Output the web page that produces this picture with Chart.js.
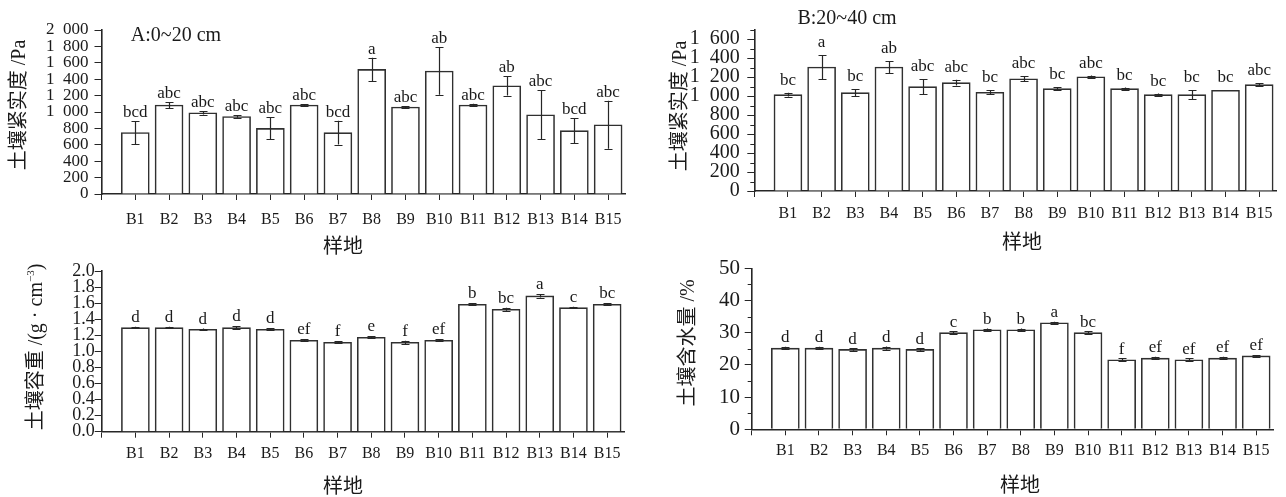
<!DOCTYPE html>
<html>
<head>
<meta charset="utf-8">
<script src="https://cdn.jsdelivr.net/npm/chart.js@4.4.1/dist/chart.umd.min.js"></script>
<style>
  body { margin: 0; width: 1286px; height: 497px; position: relative; overflow: hidden; background: #fff;
         font-family: "Liberation Serif", "Noto Sans CJK SC", serif; color: #1a1a1a; }
  canvas { position: absolute; }
  .t { position: absolute; white-space: nowrap; transform: translate(-50%, -50%); line-height: 1; }
  .v { transform: translate(-50%, -50%) rotate(-90deg); }
  sup { font-size: 0.55em; vertical-align: 0.7em; }
</style>
</head>
<body>
<canvas id="cA" width="643" height="262" style="left:0;top:0"></canvas>
<canvas id="cB" width="643" height="262" style="left:643px;top:0"></canvas>
<canvas id="cC" width="643" height="247" style="left:0;top:250px"></canvas>
<canvas id="cD" width="643" height="247" style="left:643px;top:250px"></canvas>

<div class="t" style="left:176px;top:34px;font-size:20px">A:0~20 cm</div>
<div class="t" style="left:847px;top:17px;font-size:20px">B:20~40 cm</div>

<div class="t v" style="left:18px;top:105px;font-size:20px">土壤紧实度 /Pa</div>
<div class="t v" style="left:679px;top:106px;font-size:20px">土壤紧实度 /Pa</div>
<div class="t v" style="left:35px;top:347px;font-size:20px">土壤容重 /(g · cm<sup>−3</sup>)</div>
<div class="t v" style="left:687px;top:343px;font-size:20px">土壤含水量 /%</div>

<div class="t" style="left:343px;top:246px;font-size:20px">样地</div>
<div class="t" style="left:1022px;top:242px;font-size:20px">样地</div>
<div class="t" style="left:343px;top:486px;font-size:20px">样地</div>
<div class="t" style="left:1020px;top:485px;font-size:20px">样地</div>

<script>
// ─── Données ─────────────────────────────────────────────────────────────────
const sites = ["B1", "B2", "B3", "B4", "B5", "B6", "B7", "B8", "B9", "B10", "B11", "B12", "B13", "B14", "B15"];

const compactTop = [750, 1085, 990, 945, 800, 1085, 748, 1520, 1060, 1500, 1085, 1320, 967, 772, 845];
const compactTopErr = [140, 38, 22, 14, 135, 12, 145, 142, 10, 290, 15, 120, 300, 155, 292];
const compactTopLetters = ["bcd", "abc", "abc", "abc", "abc", "abc", "bcd", "a", "abc", "ab", "abc", "ab", "abc", "bcd", "abc"];

const compactSub = [1014, 1305, 1035, 1305, 1098, 1140, 1039, 1182, 1077, 1203, 1077, 1014, 1014, 1060, 1119];
const compactSubErr = [20, 126, 35, 63, 82, 30, 22, 25, 18, 12, 12, 12, 50, 0, 15];
const compactSubLetters = ["bc", "a", "bc", "ab", "abc", "abc", "bc", "abc", "bc", "abc", "bc", "bc", "bc", "bc", "abc"];

const bulkDensity = [1.295, 1.295, 1.275, 1.295, 1.275, 1.138, 1.113, 1.175, 1.113, 1.138, 1.586, 1.524, 1.69, 1.544, 1.586];
const bulkDensityErr = [0.01, 0.01, 0.008, 0.015, 0.015, 0.015, 0.01, 0.01, 0.02, 0.01, 0.01, 0.02, 0.02, 0.01, 0.01];
const bulkDensityLetters = ["d", "d", "d", "d", "d", "ef", "f", "e", "f", "ef", "b", "bc", "a", "c", "bc"];

const moisture = [25.2, 25.2, 24.8, 25.2, 24.8, 30.0, 30.9, 30.9, 33.1, 30.0, 21.6, 22.1, 21.6, 22.1, 22.8];
const moistureErr = [0.4, 0.4, 0.4, 0.5, 0.4, 0.4, 0.4, 0.4, 0.3, 0.4, 0.4, 0.4, 0.5, 0.4, 0.3];
const moistureLetters = ["d", "d", "d", "d", "d", "c", "b", "b", "a", "bc", "f", "ef", "ef", "ef", "ef"];

// ─── Thème ───────────────────────────────────────────────────────────────────
const FONT = "'Liberation Serif', 'Noto Sans CJK SC', serif";
const INK = "#262626";
Chart.defaults.font.family = FONT;
Chart.defaults.color = "#1a1a1a";
Chart.defaults.animation = false;

// barres d'erreur + lettres de significativité
const barMarks = {
  id: "barMarks",
  afterDatasetsDraw(chart, args, opts) {
    const { ctx } = chart;
    const y = chart.scales.y;
    const pts = chart.data.datasets[0].data;
    ctx.save();
    ctx.strokeStyle = INK;
    ctx.lineWidth = 1.2;
    ctx.fillStyle = "#1a1a1a";
    ctx.font = `${opts.size}px ${FONT}`;
    ctx.textAlign = "center";
    ctx.textBaseline = "alphabetic";
    chart.getDatasetMeta(0).data.forEach((bar, i) => {
      const v = pts[i].y, e = opts.errors[i];
      const top = y.getPixelForValue(v + e);
      const bot = y.getPixelForValue(v - e);
      const x = Math.round(bar.x) + 0.5;
      if (e > 0) {
        ctx.beginPath();
        ctx.moveTo(x, top); ctx.lineTo(x, bot);
        ctx.moveTo(x - 4, Math.round(top) + 0.5); ctx.lineTo(x + 4, Math.round(top) + 0.5);
        ctx.moveTo(x - 4, Math.round(bot) + 0.5); ctx.lineTo(x + 4, Math.round(bot) + 0.5);
        ctx.stroke();
      }
      ctx.fillText(opts.letters[i], bar.x, Math.min(top, y.getPixelForValue(v)) - opts.gap);
    });
    ctx.restore();
  },
};

// petites graduations secondaires sur l'axe y
const minorTicks = {
  id: "minorTicks",
  afterDraw(chart, args, opts) {
    if (!opts.every) return;
    const { ctx, chartArea } = chart;
    const y = chart.scales.y;
    ctx.save();
    ctx.strokeStyle = INK;
    ctx.lineWidth = 1;
    y.ticks.forEach((t) => {
      if (Math.round(t.value) % opts.every === 0) return;
      const py = Math.round(y.getPixelForValue(t.value)) + 0.5;
      ctx.beginPath();
      ctx.moveTo(chartArea.left - opts.length, py);
      ctx.lineTo(chartArea.left, py);
      ctx.stroke();
    });
    ctx.restore();
  },
};

// "2 000" : séparateur de milliers
const thousands = (v) => (v < 1000 ? String(v) : `${Math.floor(v / 1000)}\u2002${String(v % 1000).padStart(3, "0")}`);

function renderPanel(id, p) {
  const ctx = document.getElementById(id).getContext("2d");
  return new Chart(ctx, {
    type: "bar",
    data: {
      datasets: [{
        data: p.values.map((v, i) => ({ x: i + 1, y: v })),
        backgroundColor: "#fff",
        borderColor: "#303030",
        borderWidth: 1.6,
        borderSkipped: "bottom",
        barThickness: 28,
      }],
    },
    options: {
      responsive: false,
      devicePixelRatio: 1,
      layout: { padding: { top: p.padTop, right: p.padRight, left: 0, bottom: 0 } },
      plugins: {
        legend: { display: false },
        tooltip: { enabled: false },
        barMarks: { errors: p.errors, letters: p.letters, gap: p.gap, size: 17 },
        minorTicks: { every: p.every, length: 4 },
      },
      scales: {
        x: {
          type: "linear",
          offset: false,
          min: 0,
          max: 15.5,
          afterBuildTicks: (s) => { s.ticks = [0, ...sites.map((_, i) => i + 1)].map((v) => ({ value: v })); },
          afterFit: (s) => { s.height = p.xHeight; },
          grid: { drawOnChartArea: false, offset: false, tickLength: 6, tickColor: INK },
          border: { color: INK, width: 1.6 },
          ticks: {
            autoSkip: false, maxRotation: 0, padding: p.xPad,
            font: { size: 16 }, color: "#1a1a1a",
            callback: (v) => sites[v - 1] || "",
          },
        },
        y: {
          min: 0,
          max: p.yMax,
          afterFit: (s) => { s.width = p.yWidth; },
          grid: {
            drawOnChartArea: false, tickLength: 7,
            tickColor: (c) => (!p.every || Math.round(c.tick.value) % p.every === 0 ? INK : "transparent"),
          },
          border: { color: INK, width: 1.6 },
          ticks: {
            stepSize: p.yStep, autoSkip: false, padding: p.yPad,
            font: { size: p.yFont, lineHeight: 1 }, color: "#1a1a1a",
            callback: p.format,
          },
        },
      },
    },
    plugins: [barMarks, minorTicks],
  });
}

renderPanel("cA", {
  values: compactTop, errors: compactTopErr, letters: compactTopLetters,
  yMax: 2000, yStep: 200, every: 0, format: thousands,
  padTop: 30, padRight: 18, yWidth: 101.5, xHeight: 68, xPad: 10, yPad: 6, yFont: 17, gap: 4,
});

renderPanel("cB", {
  values: compactSub, errors: compactSubErr, letters: compactSubLetters,
  yMax: 1700, yStep: 100, every: 200,
  format: (v) => (v % 200 === 0 ? thousands(v) : ""),
  padTop: 29.5, padRight: 10, yWidth: 111.3, xHeight: 71, xPad: 7.5, yPad: 7.5, yFont: 20, gap: 8,
});

renderPanel("cC", {
  values: bulkDensity, errors: bulkDensityErr, letters: bulkDensityLetters,
  yMax: 2.0, yStep: 0.2, every: 0, format: (v) => v.toFixed(1),
  padTop: 21, padRight: 19, yWidth: 101.7, xHeight: 65.3, xPad: 6, yPad: 0, yFont: 18, gap: 5,
});

renderPanel("cD", {
  values: moisture, errors: moistureErr, letters: moistureLetters,
  yMax: 50, yStep: 5, every: 10,
  format: (v) => (v % 10 === 0 ? String(v) : ""),
  padTop: 18.3, padRight: 13, yWidth: 108.7, xHeight: 67.7, xPad: 6, yPad: 4.7, yFont: 21, gap: 4.5,
});
</script>
</body>
</html>
